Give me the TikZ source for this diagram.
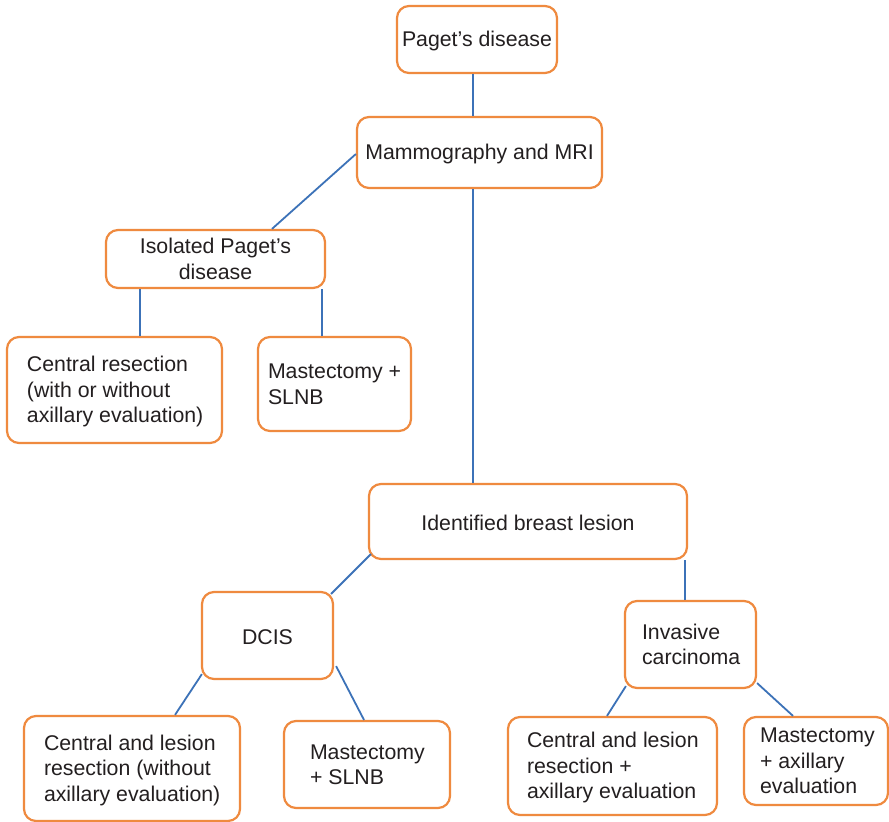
\documentclass[tikz,border=0pt]{standalone}
\usepackage{fontspec}
\setmainfont{Liberation Sans}
\usetikzlibrary{calc}
\definecolor{boxorange}{HTML}{EF8A3F}
\definecolor{linkblue}{HTML}{3C72B8}
\definecolor{inkgray}{HTML}{231F20}
% text lines set slightly below the box centre, keeping their natural size
\newcommand\lowered[2][2.2pt]{\raisebox{-#1}[\height][\depth]{#2}}
% centred lines
\newcommand\clines[1]{\lowered{\begin{tabular}{@{}c@{}}#1\end{tabular}}}
% a single centred line
\newcommand\oneline[1]{\lowered[1.6pt]{#1}}
% left-aligned lines in a block of fixed width
\newcommand\leftlines[2]{\makebox[#1][l]{\lowered{\begin{tabular}{@{}l@{}}#2\end{tabular}}}}
\begin{document}
\begin{tikzpicture}[x=1pt,y=-1pt,
  box/.style={draw=boxorange, line width=2.2pt, rounded corners=12pt, fill=white,
    text=inkgray, font=\fontsize{21.3}{25.5}\selectfont, inner ysep=0pt},
  cbox/.style={box, inner xsep=0pt},
  lbox/.style n args={2}{box, inner xsep=#1, minimum height=#2},
  link/.style={draw=linkblue, line width=1.8pt}]
\path[use as bounding box, fill=white] (0,0) rectangle (889,822);

% top of the tree
\node[cbox, minimum width=160pt, minimum height=67pt] (paget) at (477,39.5) {\oneline{Paget’s disease}};
\node[cbox, minimum width=245pt, minimum height=71pt] (mri) at (479.5,152.5) {\oneline{Mammography and MRI}};

% isolated Paget's disease branch
\node[cbox, minimum width=219pt, minimum height=58pt] (iso) at (215.5,259) {\clines{Isolated Paget’s\\disease}};
\node[lbox={20pt}{106pt}] (cres) at (114.5,390)
  {\leftlines{175pt}{Central resection\\(with or without\\axillary evaluation)}};
\node[lbox={10pt}{94pt}] (mast1) at (334.5,384)
  {\leftlines{133pt}{Mastectomy +\\SLNB}};

% identified lesion branch
\node[cbox, minimum width=318pt, minimum height=75pt] (ibl) at (528,521.5) {\oneline{Identified breast lesion}};
\node[cbox, minimum width=131pt, minimum height=87pt] (dcis) at (267.5,635.5) {\oneline{DCIS}};
\node[lbox={17pt}{87pt}] (inv) at (690.5,644.5)
  {\leftlines{97pt}{Invasive\\carcinoma}};

\node[lbox={20pt}{105pt}] (clr1) at (132,768.5)
  {\leftlines{176pt}{Central and lesion\\resection (without\\axillary evaluation)}};
\node[lbox={26pt}{87pt}] (mast2) at (367,764.5)
  {\leftlines{114pt}{Mastectomy\\+ SLNB}};
\node[lbox={19pt}{98pt}] (clr2) at (612.5,766)
  {\leftlines{171pt}{Central and lesion\\resection +\\axillary evaluation}};
\node[lbox={16pt}{88pt}] (mast3) at (816,761)
  {\leftlines{112pt}{Mastectomy\\+ axillary\\evaluation}};

% connectors
\draw[link] ([xshift=-4pt]paget.south) -- ([xshift=-4pt]paget.south |- mri.north);
\draw[link] ([yshift=-1.5pt]mri.west) -- ([xshift=56.5pt]iso.north);
\draw[link] ([xshift=-6.5pt]mri.south) -- ([xshift=-6.5pt]mri.south |- ibl.north);
\draw[link] ([xshift=25.5pt]cres.north) -- ([xshift=25.5pt]cres.north |- iso.south);
\draw[link] ([xshift=-12.5pt]mast1.north) -- ([xshift=-12.5pt]mast1.north |- iso.south);
\draw[link] ([shift={(3pt,6pt)}]ibl.south west) -- ([shift={(-3pt,-3pt)}]dcis.north east);
\draw[link] ([xshift=-5.5pt]inv.north) -- ([xshift=-5.5pt]inv.north |- ibl.south);
\draw[link] ([shift={(1pt,6pt)}]dcis.south west) -- ([xshift=43pt]clr1.north);
\draw[link] ([shift={(2pt,14pt)}]dcis.south east) -- ([xshift=-3pt]mast2.north);
\draw[link] ([shift={(2pt,3pt)}]inv.south west) -- ([xshift=-5.5pt]clr2.north);
\draw[link] ([shift={(0pt,6pt)}]inv.south east) -- ([xshift=-23pt]mast3.north);
\end{tikzpicture}
\end{document}
